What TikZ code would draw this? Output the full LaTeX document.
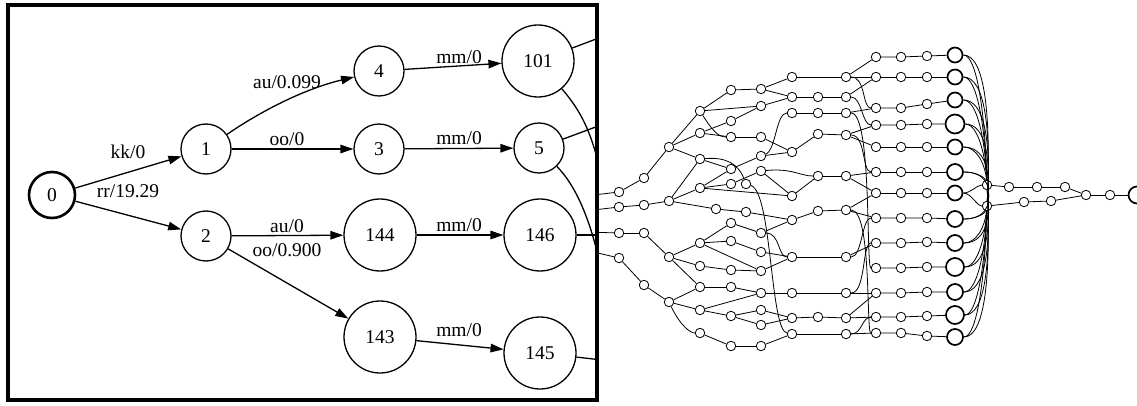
\documentclass[tikz,border=0pt]{standalone}
\usepackage{fontspec}
\setmainfont{Liberation Serif}
\usetikzlibrary{arrows.meta}
\begin{document}
\begin{tikzpicture}[x=1pt,y=-1pt,
  lbfont/.style={font=\fontsize{19.5}{22}\selectfont},
  state/.style={circle,draw,line width=1.3pt,minimum size=50pt,inner sep=0pt,lbfont},
  widestate/.style={state,minimum size=72pt},
  startstate/.style={state,line width=2.6pt,minimum size=46pt},
  arc/.style={line width=1.3pt,-{Triangle[length=13pt,width=8.5pt]}},
  plainarc/.style={line width=1.3pt},
  arclabel/.style={inner sep=0pt,lbfont},
  dot/.style={circle,draw,line width=0.8pt,minimum size=9.5pt,inner sep=0pt},
  bigdot/.style={circle,draw,line width=1.7pt,inner sep=0pt},
  link/.style={line width=0.8pt},
]
\useasboundingbox (0,0) rectangle (1137,406);
\fill[white] (0,0) rectangle (1137,406);

% ---------- overview of the whole lattice ----------
\coordinate (s1) at (585,196);
\coordinate (s2) at (585,211);
\coordinate (s3) at (585,232);
\coordinate (s4) at (585,250);

\foreach \n/\x/\y in {
  a1/619/192, a2/619/207, a3/619/233, a4/619/258,
  b1/644/178, b2/644/205, b3/644/233, b4/644/285,
  c1/669/147, c2/669/201, c3/669/257, c4/669/302,
  d1/700/111, d2/700/133, d3/700/159, d4/700/188, d5/700/243,
  d6/700/266, d7/700/287, d8/700/310, d9/700/333,
  x1/716/209, x2/746/212, x3/746/184,
  e1/731/90, e2/731/121, e3/731/137, e4/731/169, e5/731/184,
  e6/731/223, e7/731/241, e8/731/270, e9/731/287, e10/731/316, e11/731/346,
  f1/761/89, f2/761/106, f3/761/137, f4/761/156, f5/761/171,
  f6/761/233, f7/761/252, f8/761/271, f9/761/293, f10/761/310,
  f11/761/325, f12/761/346,
  g1/792/77, g2/792/97, g3/792/113, g4/792/152, g5/792/196,
  g6/792/220, g7/792/257, g8/792/293, g9/792/318, g10/792/334,
  h1/818/97, h2/818/113, h3/818/134, h4/818/176, h5/818/211, h6/818/317,
  i1/846/77, i2/846/97, i3/846/113, i4/846/135, i5/846/176,
  i6/846/210, i7/846/257, i8/846/293, i9/846/318, i10/846/334,
  p/987/185, q/987/206, r1/1009/187, r2/1037/187, r3/1065/187,
  t1/1024/202, t2/1051/201, u/1086/195, v/1110/195}
  {\node[dot] (\n) at (\x,\y) {};}
\node[bigdot,minimum size=17pt] (w) at (1137,195) {};

% parallel chains ending in the final states of each word
\foreach \yj/\yl/\ym/\r [count=\k] in {
  57/56/55/7.5, 77/77/77/7.5, 108/104/100/7.5, 125/124/124/9.5,
  147/147/147/7.5, 172/172/172/8, 193/193/193/7.5, 218/218/219/8,
  243/242/243/8, 268/267/267/9, 293/292/292/8, 317/316/315/9, 333/336/337/8}
{
  \node[dot] (j\k) at (876,\yj) {};
  \node[dot] (k\k) at (901,\yj) {};
  \node[dot] (l\k) at (927,\yl) {};
  \node[bigdot,minimum size={2*\r pt}] (m\k) at (955,\ym) {};
  \draw[link] (j\k) -- (k\k) -- (l\k) -- (m\k);
}

\foreach \a/\b in {
  s1/a1, s2/a2, s3/a3, s4/a4,
  a1/b1, a2/b2, a3/b3, a4/b4,
  b1/c1, b2/c2, b3/c3, b4/c4,
  c1/d1, c1/d2, c1/d3, c2/d3, c2/d4, c2/x1, c3/d5, c3/d6, c3/d7, c4/d7, c4/d8,
  d1/e1, d1/f2, d2/e2, d2/e3, d3/e4, d4/e4, d4/e5, d4/g5,
  x1/x2, x2/g6,
  e1/f1, e2/f2, e3/f3, e4/f4, e5/f5,
  d5/e6, d5/e7, d5/f8, d6/e8, d7/e9, d8/e10, d8/f9, d9/e11,
  e6/f6, e7/f7, e8/f8, e9/f9, e10/f10, e10/f11, e11/f12,
  f1/g1, f1/g2, f2/g2, f3/g4, f4/g4, f5/g5,
  f6/g6, f7/g7, f8/g7, f9/g8, f10/g9, f11/g9, f12/g10,
  g1/i1, g2/h1, h1/i2, g3/h2, h2/i3, g4/h3, h3/i4, g5/h4, h4/i5,
  g6/h5, h5/i6, g7/i7, g8/i8, g9/h6, h6/i9, g10/i10,
  i1/j1, i1/j2, i2/j2, i3/j3, i4/j4, i4/j5, i5/j6, i5/j7, i6/j7, i6/j8,
  i7/j9, i8/j11, i9/j12, i9/j11, i10/j13,
  p/r1, r1/r2, r2/r3, r3/u, q/t1, t1/t2, t2/u, u/v, v/w}
  {\draw[link] (\a) -- (\b);}

% bent links of the overview
\draw[link] (d1) .. controls (712,130) and (718,137) .. (e3);
\draw[link] (c4) .. controls (680,325) and (690,333) .. (d9);
\draw[link] (d3) .. controls (725,157) and (738,163) .. (x3);
\draw[link] (f4) .. controls (776,150) and (776,113) .. (g3);
\draw[link] (f5) .. controls (792,168) and (800,176) .. (h4);
\draw[link] (f6) .. controls (780,233) and (778,257) .. (g7);
\draw[link] (x3) .. controls (772,192) and (770,330) .. (g10);
\draw[link] (i1) .. controls (866,77) and (862,108) .. (j3);
\draw[link] (i2) .. controls (862,97) and (862,125) .. (j4);
\draw[link] (i3) .. controls (872,113) and (866,268) .. (j10);
\draw[link] (i4) .. controls (866,135) and (862,172) .. (j6);
\draw[link] (i7) .. controls (862,257) and (862,218) .. (j8);
\draw[link] (i8) .. controls (866,293) and (862,243) .. (j9);
\draw[link] (i10) .. controls (862,334) and (862,317) .. (j12);
\draw[link] (i6) .. controls (872,210) and (866,333) .. (j13);

% every final state joins the two closing paths
\foreach \k/\y in {1/55,2/77,3/100,4/124,5/147,6/172}{
  \draw[link] (m\k) .. controls +(22,0) and +(-2,{-(185-\y)*0.55}) .. (p);
  \draw[link] (m\k) .. controls +(30,0) and +(4,{-(206-\y)*0.6}) .. (q);
}
\draw[link] (m7) .. controls +(16,0) and +(-10,0) .. (p);
\draw[link] (m7) .. controls +(16,0) and +(-10,0) .. (q);
\foreach \k/\y in {8/219,9/243,10/267,11/292,12/315,13/337}{
  \draw[link] (m\k) .. controls +(22,0) and +(-2,{(\y-206)*0.55}) .. (q);
  \draw[link] (m\k) .. controls +(30,0) and +(4,{(\y-185)*0.6}) .. (p);
}

% ---------- enlarged start of the lattice ----------
\fill[white] (8,5) rectangle (597,400);
\begin{scope}
\clip (8,5) rectangle (597,400);
\node[startstate] (n0) at (52,195) {0};
\node[state] (n1) at (206,149) {1};
\node[state] (n2) at (206,236) {2};
\node[state] (n4) at (379,71) {4};
\node[state] (n3) at (379,149) {3};
\node[state] (n5) at (539,148) {5};
\node[widestate] (n101) at (538,61) {101};
\node[widestate] (n144) at (380,235) {144};
\node[widestate] (n146) at (540,235) {146};
\node[widestate] (n143) at (380,337) {143};
\node[widestate] (n145) at (540,353) {145};

\coordinate (o1) at (620,30);
\coordinate (o2) at (605,200);
\coordinate (o3) at (620,118);
\coordinate (o4) at (605,290);
\coordinate (o5) at (620,235);
\coordinate (o6) at (620,362);

\draw[arc] (n0) -- (n1) node[arclabel,at={(128,152)}] {kk/0};
\draw[arc] (n0) -- (n2) node[arclabel,at={(128,191)}] {rr/19.29};
\draw[arc] (n1) .. controls (255,115) and (300,90) .. (n4)
  node[arclabel,at={(287,82)}] {au/0.099};
\draw[arc] (n1) -- (n3) node[arclabel,at={(287,139)}] {oo/0};
\draw[arc] (n2) -- (n144) node[arclabel,at={(287,226)}] {au/0};
\draw[arc] (n2) -- (n143) node[arclabel,at={(287,250)}] {oo/0.900};
\draw[arc] (n4) -- (n101) node[arclabel,at={(459,57)}] {mm/0};
\draw[arc] (n3) -- (n5) node[arclabel,at={(459,138)}] {mm/0};
\draw[arc] (n144) -- (n146) node[arclabel,at={(459,225)}] {mm/0};
\draw[arc] (n143) -- (n145) node[arclabel,at={(459,330)}] {mm/0};

\draw[plainarc] (n101) -- (o1);
\draw[plainarc] (n101) .. controls (580,110) and (596,135) .. (o2);
\draw[plainarc] (n5) -- (o3);
\draw[plainarc] (n5) .. controls (575,185) and (593,220) .. (o4);
\draw[plainarc] (n146) -- (o5);
\draw[plainarc] (n145) -- (o6);
\end{scope}
\draw[line width=3.5pt] (8,5) rectangle (597,400);
\end{tikzpicture}
\end{document}
